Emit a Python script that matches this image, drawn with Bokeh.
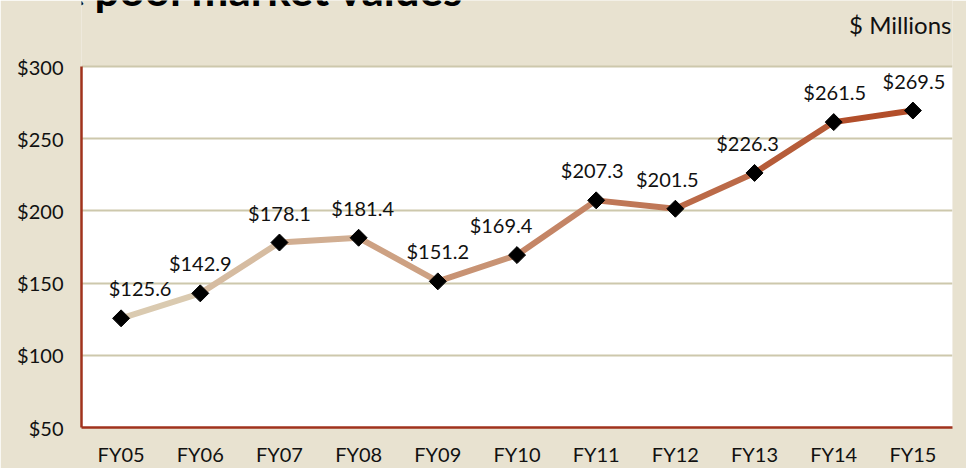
import math
from bokeh.plotting import figure
from bokeh.models import ColumnDataSource, FactorRange, Range1d, NumeralTickFormatter, FixedTicker, Label, BoxAnnotation
from bokeh.embed import file_html
from bokeh.resources import INLINE
from bokeh.core.properties import value

years = ["FY05", "FY06", "FY07", "FY08", "FY09", "FY10", "FY11", "FY12", "FY13", "FY14", "FY15"]
values = [125.6, 142.9, 178.1, 181.4, 151.2, 169.4, 207.3, 201.5, 226.3, 261.5, 269.5]
y_ticks = [50, 100, 150, 200, 250, 300]
y_min, y_max = 50, 300
unit_label = "$ Millions"
title_text = "Investment pool market values"

# label horizontal nudges (layout only)
label_dx = [19, 0, 0, 4, 0, -16, -4, -8, -7, 1, 1]

FONT = "Lato"
BG = "#e8e2d0"
W, H = 966, 468
LEFT, RIGHT, BOTTOM = 81, 14, 41
PLOT_TOP = 66            # pixel row of the y_max gridline
frame_h = H - BOTTOM     # frame reaches the canvas top; the band above y_max is drawn as page background
px_per_unit = (frame_h - PLOT_TOP) / (y_max - y_min)
y_top = y_max + PLOT_TOP / px_per_unit

p = figure(x_range=FactorRange(*years, range_padding=0), y_range=Range1d(y_min, y_top),
           width=W, height=H, output_backend="svg", toolbar_location=None, title_location=None,
           min_border_left=LEFT, min_border_right=RIGHT, min_border_top=0, min_border_bottom=BOTTOM)
p.background_fill_color = BG
p.border_fill_color = BG
p.outline_line_color = None

# white plotting area between y_min and y_max, under the grid
p.add_layout(BoxAnnotation(bottom=y_min, top=y_max, fill_color="#ffffff", fill_alpha=1,
                           line_color=None, level="image"))

p.xgrid.grid_line_color = None
p.ygrid.grid_line_color = "#cdc8ac"
p.ygrid.grid_line_width = 2
p.ygrid.ticker = FixedTicker(ticks=y_ticks)
p.yaxis.ticker = FixedTicker(ticks=y_ticks)
p.yaxis.bounds = (y_min, y_max)

for ax in (p.xaxis[0], p.yaxis[0]):
    ax.axis_line_color = "#a0321c"
    ax.axis_line_width = 2.5
    ax.major_tick_line_color = None
    ax.minor_tick_line_color = None
    ax.major_tick_out = 0
    ax.major_tick_in = 0
    ax.major_label_text_font = FONT
    ax.major_label_text_font_size = "20px"
    ax.major_label_text_color = "#111111"
p.yaxis.formatter = NumeralTickFormatter(format="$0")
p.yaxis.major_label_standoff = 18
p.xaxis.major_label_standoff = 14

# gradient line segments
def lerp(c0, c1, t):
    a = [int(c0[i:i + 2], 16) for i in (1, 3, 5)]
    b = [int(c1[i:i + 2], 16) for i in (1, 3, 5)]
    return "#" + "".join(f"{round(a[k] + (b[k] - a[k]) * t):02x}" for k in range(3))

n = len(years)
seg_colors = [lerp("#dacab0", "#b24e2a", i / (n - 2)) for i in range(n - 1)]
seg = ColumnDataSource(dict(x0=years[:-1], x1=years[1:], y0=values[:-1], y1=values[1:], c=seg_colors))
p.segment(x0="x0", y0="y0", x1="x1", y1="y1", source=seg, line_color="c", line_width=6, line_cap="round")

src = ColumnDataSource(dict(x=years, y=values, lab=[f"${v:.1f}" for v in values], dx=label_dx))
p.scatter(x="x", y="y", source=src, marker="square", angle=math.pi / 4, size=12,
          fill_color="black", line_color="black")
p.text(x="x", y="y", text="lab", source=src, x_offset="dx", y_offset=-18,
       text_align="center", text_baseline="bottom", text_font=value(FONT),
       text_font_size="20px", text_color="#111111")

# header texts (screen units are measured from the frame's bottom-left corner)
UNIT_FS, TITLE_FS = 24, 44
p.add_layout(Label(x=951 - LEFT, y=frame_h - 33 + 0.36 * UNIT_FS, x_units="screen", y_units="screen",
                   text=unit_label, text_align="right", text_baseline="alphabetic", text_font=FONT,
                   text_font_size=f"{UNIT_FS}px", text_color="#111111"))
p.add_layout(Label(x=463 - LEFT, y=frame_h - 4 + 0.36 * TITLE_FS, x_units="screen", y_units="screen",
                   text=title_text, text_align="right", text_baseline="alphabetic", text_font=FONT,
                   text_font_style="bold", text_font_size=f"{TITLE_FS}px", text_color="#000000"))

open("out.html", "w").write(file_html(p, INLINE))
